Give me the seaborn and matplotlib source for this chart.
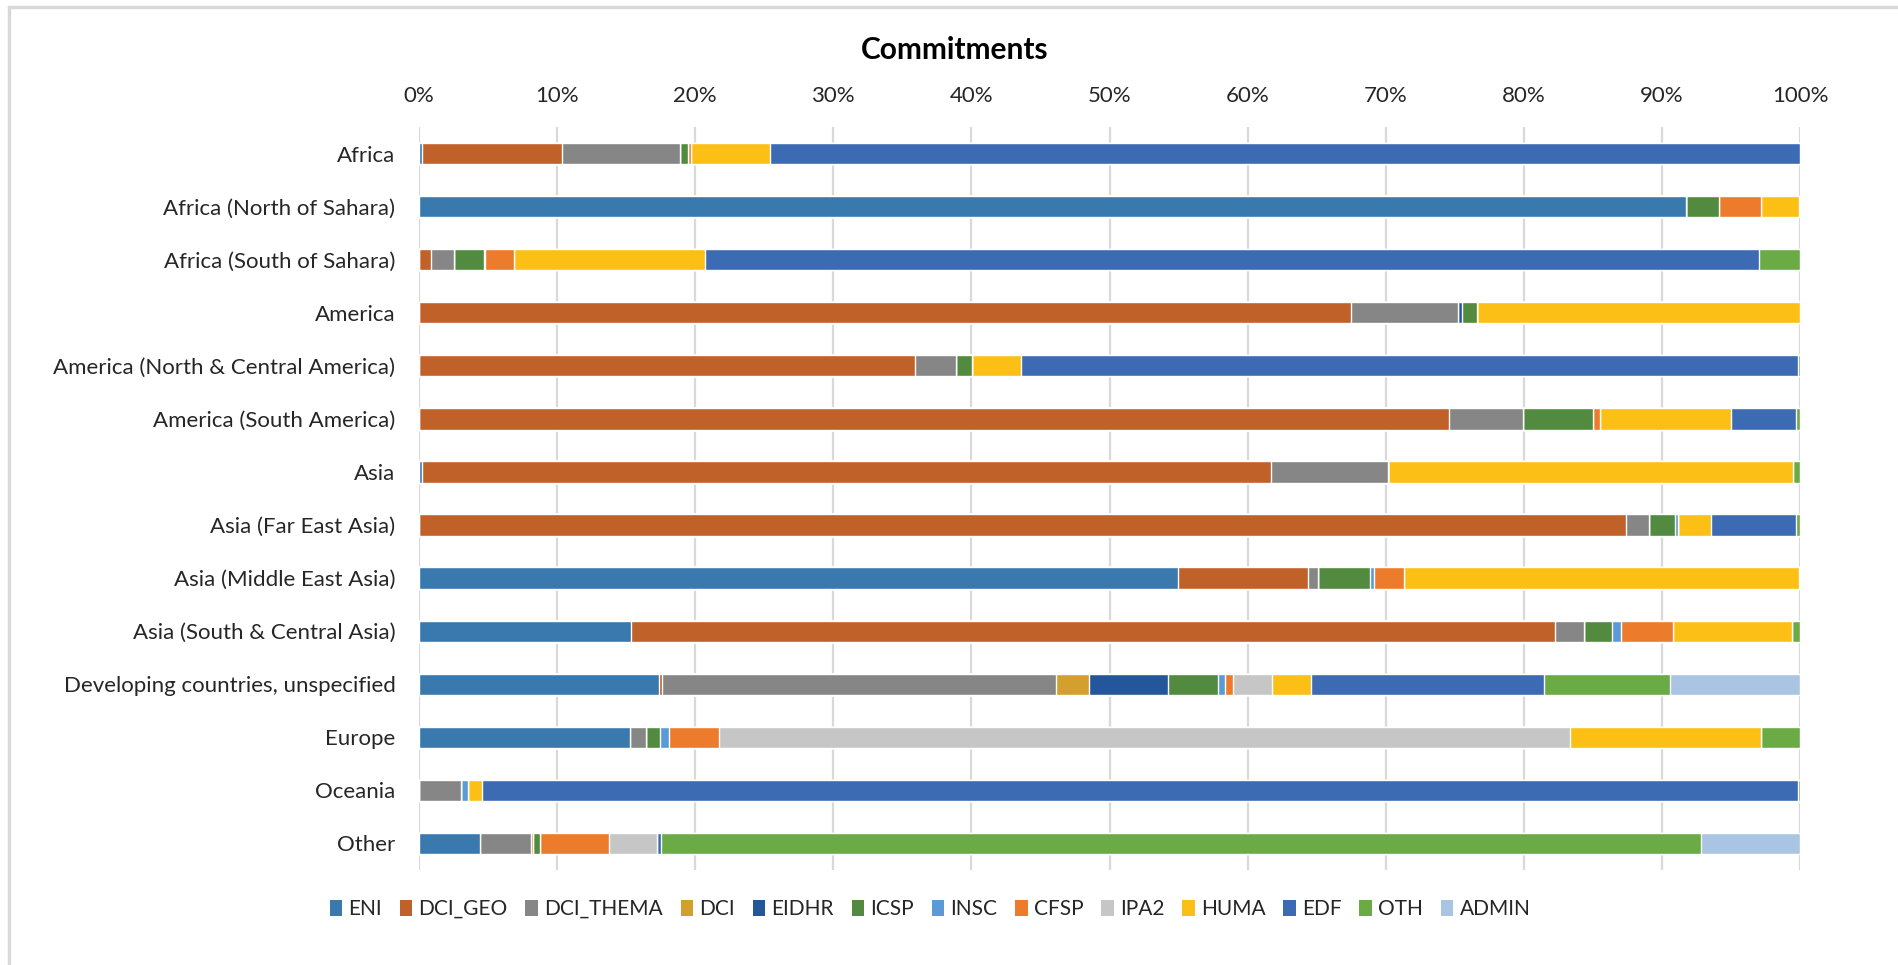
import matplotlib
matplotlib.use("Agg")
import matplotlib.pyplot as plt
from matplotlib.patches import Patch
from matplotlib.lines import Line2D
import seaborn as sns
import pandas as pd

regions = ["Africa", "Africa (North of Sahara)", "Africa (South of Sahara)", "America",
           "America (North & Central America)", "America (South America)", "Asia",
           "Asia (Far East Asia)", "Asia (Middle East Asia)", "Asia (South & Central Asia)",
           "Developing countries, unspecified", "Europe", "Oceania", "Other"]

# share of commitments per instrument (%)
ENI       = [0.2, 91.85, 0, 0, 0, 0, 0.2, 0, 54.96, 15.35, 17.37, 15.31, 0, 4.43]
DCI_GEO   = [10.15, 0, 0.9, 67.5, 35.9, 74.56, 61.5, 87.37, 9.43, 66.93, 0.22, 0, 0, 0]
DCI_THEMA = [8.55, 0, 1.6, 7.76, 2.96, 5.4, 8.47, 1.67, 0.74, 2.11, 28.55, 1.1, 3.03, 3.68]
DCI       = [0, 0, 0, 0, 0, 0, 0, 0, 0, 0, 2.41, 0, 0, 0.14]
EIDHR     = [0, 0, 0, 0.27, 0, 0, 0, 0, 0, 0, 5.7, 0, 0, 0]
ICSP      = [0.6, 2.35, 2.2, 1.05, 1.14, 5.08, 0, 1.88, 3.77, 2.01, 3.6, 1.05, 0, 0.52]
INSC      = [0, 0, 0.05, 0, 0, 0, 0, 0.22, 0.27, 0.62, 0.48, 0.61, 0.52, 0]
CFSP      = [0.2, 3.1, 2.1, 0, 0, 0.49, 0, 0, 2.19, 3.77, 0.62, 3.68, 0, 4.96]
IPA2      = [0, 0, 0, 0, 0, 0, 0, 0, 0, 0, 2.85, 61.63, 0, 3.51]
HUMA      = [5.7, 2.7, 13.9, 23.42, 3.55, 9.47, 29.29, 2.41, 28.64, 8.64, 2.81, 13.81, 1.01, 0]
EDF       = [74.6, 0, 76.3, 0, 56.3, 4.74, 0, 6.19, 0, 0, 16.88, 0, 95.31, 0.3]
OTH       = [0, 0.1, 3.0, 0, 0.13, 0.26, 0.53, 0.26, 0.05, 0.57, 9.08, 2.81, 0.13, 75.31]
ADMIN     = [0, 0, 0, 0, 0, 0, 0, 0, 0, 0, 9.43, 0, 0, 7.15]

instruments = ["ENI", "DCI_GEO", "DCI_THEMA", "DCI", "EIDHR", "ICSP", "INSC",
               "CFSP", "IPA2", "HUMA", "EDF", "OTH", "ADMIN"]
colors = ["#3A79AD", "#C1612A", "#868686", "#D39F2D", "#23569B", "#528B3F", "#5B9BD5",
          "#EC7C2B", "#C6C6C6", "#FBBF16", "#3C6BB3", "#6AAB45", "#AAC4E3"]

df = pd.DataFrame({"ENI": ENI, "DCI_GEO": DCI_GEO, "DCI_THEMA": DCI_THEMA, "DCI": DCI,
                   "EIDHR": EIDHR, "ICSP": ICSP, "INSC": INSC, "CFSP": CFSP, "IPA2": IPA2,
                   "HUMA": HUMA, "EDF": EDF, "OTH": OTH, "ADMIN": ADMIN}, index=regions)
df = df.div(df.sum(axis=1), axis=0) * 100
cum = df.cumsum(axis=1)
cum["region"] = regions

sns.set_theme(style="white")
plt.rcParams["font.family"] = ["Lato", "DejaVu Sans"]
txt = "#262626"

fig = plt.figure(figsize=(18.98, 9.65), dpi=100)
ax = fig.add_axes([419 / 1898, 1 - 870 / 965, 1381 / 1898, 743 / 965])

# stacked bars: draw cumulative totals from the last series back to the first
for name, c in reversed(list(zip(instruments, colors))):
    sns.barplot(data=cum, x=name, y="region", color=c, saturation=1, width=0.4,
                errorbar=None, orient="h", ax=ax, zorder=3)

ax.set_xlim(0, 100)
ax.set_ylim(13.5, -0.5)
ax.set_xticks(range(0, 101, 10))
ax.set_xticklabels([f"{v}%" for v in range(0, 101, 10)])
ax.xaxis.tick_top()
ax.tick_params(axis="x", length=0, pad=15, labelsize=16, labelcolor=txt)
ax.tick_params(axis="y", length=0, pad=17, labelsize=16, labelcolor=txt)
ax.set_xlabel("")
ax.set_ylabel("")
ax.grid(axis="x", color="#D9D9D9", linewidth=1.6, zorder=0)
ax.set_axisbelow(True)
for s in ax.spines.values():
    s.set_visible(False)

fig.text(955 / 1898, 1 - 50 / 965, "Commitments", ha="center", va="center",
         fontsize=21.5, fontweight="bold", color="#000000")

handles = [Patch(facecolor=c, edgecolor="none", label=n) for n, c in zip(instruments, colors)]
fig.legend(handles=handles, loc="center", bbox_to_anchor=(930 / 1898, 1 - 909 / 965),
           ncol=len(instruments), frameon=False, fontsize=15, handlelength=0.6,
           handleheight=0.8, handletextpad=0.3, columnspacing=0.85, labelcolor=txt)

# chart area border (left and top edges visible)
fig.add_artist(Line2D([9 / 1898, 9 / 1898], [0, 1 - 7 / 965], color="#D9D9D9", lw=2.5,
                      transform=fig.transFigure))
fig.add_artist(Line2D([9 / 1898, 1], [1 - 7 / 965, 1 - 7 / 965], color="#D9D9D9", lw=2.5,
                      transform=fig.transFigure))

fig.savefig("out.png", dpi=100)
